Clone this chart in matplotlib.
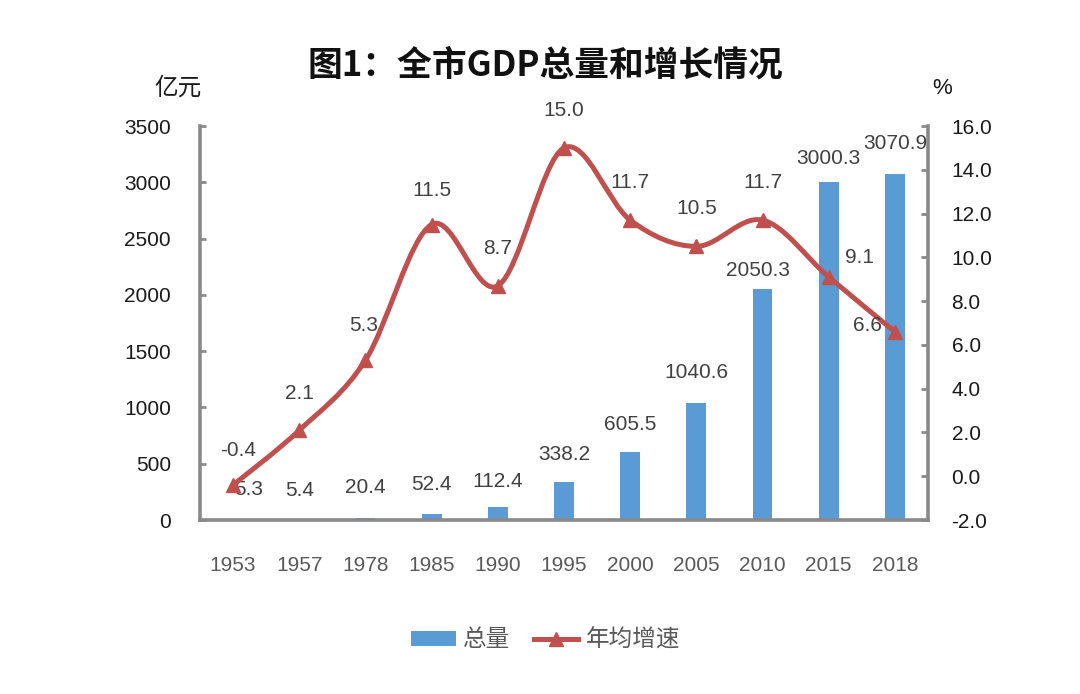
import matplotlib
matplotlib.use("Agg")
import matplotlib.pyplot as plt
from matplotlib.path import Path
from matplotlib.patches import PathPatch, Patch
from matplotlib.lines import Line2D
from matplotlib.ticker import FormatStrFormatter

plt.rcParams['font.family'] = ['Liberation Sans', 'Noto Sans CJK SC', 'DejaVu Sans']

# ---- data ----
years = ['1953', '1957', '1978', '1985', '1990', '1995', '2000', '2005', '2010', '2015', '2018']
gdp_total = [5.3, 5.4, 20.4, 52.4, 112.4, 338.2, 605.5, 1040.6, 2050.3, 3000.3, 3070.9]
growth = [-0.4, 2.1, 5.3, 11.5, 8.7, 15.0, 11.7, 10.5, 11.7, 9.1, 6.6]
left_ticks = [0, 500, 1000, 1500, 2000, 2500, 3000, 3500]
right_ticks = [-2.0, 0.0, 2.0, 4.0, 6.0, 8.0, 10.0, 12.0, 14.0, 16.0]

title = '图1：全市GDP总量和增长情况'
left_unit = '亿元'
right_unit = '%'
legend_labels = ['总量', '年均增速']

# label offsets in pixels (style only)
bar_label_offsets = [(16, 30), (0, 29), (0, 30), (0, 30), (0, 26), (0, 27),
                     (0, 27), (0, 30), (-5, 19), (0, 24), (0, 31)]
line_label_offsets = [(5, 34), (0, 37), (-2, 35), (0, 34), (0, 37), (0, 37),
                      (0, 38), (0, 38), (0, 38), (31, 20), (-27, 6)]

BAR_C = '#5B9BD5'
LINE_C = '#C0504D'
SPINE_C = '#898989'
LABEL_C = '#404040'
XTICK_C = '#595959'

fig = plt.figure(figsize=(10.8, 6.94), dpi=100)
ax = fig.add_axes([200/1080, 1-520/694, 728/1080, 394/694])
ax2 = ax.twinx()

x = list(range(len(years)))

# bars
ax.bar(x, gdp_total, width=0.3, color=BAR_C, zorder=2)
ax.set_xlim(-0.5, len(years) - 0.5)
ax.set_ylim(0, 3500)
ax.set_yticks(left_ticks)
ax.set_xticks(x)
ax.set_xticklabels(years)

for xi, v, off in zip(x, gdp_total, bar_label_offsets):
    ax.annotate(f'{v:.1f}', (xi, v), xytext=off, textcoords='offset pixels',
                ha='center', va='center', fontsize=15, color=LABEL_C)

# smoothed line (Catmull-Rom as Bezier path through the data points)
pts = list(zip(x, growth))
verts = [pts[0]]
codes = [Path.MOVETO]
n = len(pts)
for i in range(n - 1):
    p0 = pts[i - 1] if i > 0 else pts[i]
    p1 = pts[i]
    p2 = pts[i + 1]
    p3 = pts[i + 2] if i + 2 < n else pts[i + 1]
    c1 = (p1[0] + (p2[0] - p0[0]) / 6, p1[1] + (p2[1] - p0[1]) / 6)
    c2 = (p2[0] - (p3[0] - p1[0]) / 6, p2[1] - (p3[1] - p1[1]) / 6)
    verts += [c1, c2, p2]
    codes += [Path.CURVE4] * 3
path = Path(verts, codes)
ax2.add_patch(PathPatch(path, facecolor='none', edgecolor=LINE_C, lw=3.6,
                        capstyle='round', joinstyle='round', zorder=3))
ax2.plot(x, growth, linestyle='none', marker='^', markersize=10,
         color=LINE_C, zorder=4)
ax2.set_ylim(-2, 16)
ax2.set_yticks(right_ticks)
ax2.yaxis.set_major_formatter(FormatStrFormatter('%.1f'))

for xi, v, off in zip(x, growth, line_label_offsets):
    ax2.annotate(f'{v:.1f}', (xi, v), xytext=off, textcoords='offset pixels',
                 ha='center', va='center', fontsize=15, color=LABEL_C, zorder=5)

# spines & ticks
for a in (ax, ax2):
    a.spines['top'].set_visible(False)
    for s in ('left', 'right', 'bottom'):
        a.spines[s].set_color(SPINE_C)
        a.spines[s].set_linewidth(2.6)
ax.spines['right'].set_visible(False)
ax2.spines['left'].set_visible(False)
ax2.spines['bottom'].set_visible(False)

ax.tick_params(axis='y', direction='in', length=4, width=2, color=SPINE_C,
               labelsize=15, labelcolor='#1a1a1a', pad=21)
ax.tick_params(axis='x', length=0, labelsize=15, labelcolor=XTICK_C, pad=26)
ax2.tick_params(axis='y', direction='in', length=5, width=2, color=SPINE_C,
                labelsize=15, labelcolor='#1a1a1a', pad=17)

# texts
fig.text(0.505, 1-65/694, title, ha='center', va='center', fontsize=25,
         fontweight='bold', family=['Noto Sans CJK SC', 'DejaVu Sans'], color='#111111')
fig.text(178/1080, 1-88/694, left_unit, ha='center', va='center', fontsize=17,
         family=['Noto Sans CJK SC', 'DejaVu Sans'], color='#1a1a1a')
fig.text(942/1080, 1-88/694, right_unit, ha='center', va='center', fontsize=16,
         color='#1a1a1a')

handles = [Patch(facecolor=BAR_C, edgecolor='none'),
           Line2D([0], [0], color=LINE_C, lw=3.6, marker='^', markersize=10)]
leg = fig.legend(handles, legend_labels, loc='center', bbox_to_anchor=(0.505, 1-640/694),
                 ncol=2, frameon=False, handlelength=1.9, handleheight=0.6,
                 handletextpad=0.3, columnspacing=1.0,
                 prop={'family': ['Noto Sans CJK SC', 'DejaVu Sans'], 'size': 17})
for t in leg.get_texts():
    t.set_color(XTICK_C)

fig.savefig('out.png', dpi=100)
